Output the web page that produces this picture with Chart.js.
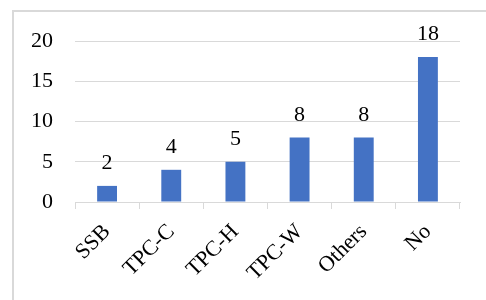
<!DOCTYPE html>
<html>
<head>
<meta charset="utf-8">
<script src="https://cdn.jsdelivr.net/npm/chart.js@4"></script>
<style>
  html, body { margin: 0; padding: 0; background: #fff; }
  #wrap { position: relative; width: 486px; height: 300px; overflow: hidden; }
  #frame { position: absolute; left: 12px; top: 10px; width: 600px; height: 400px;
           border-left: 2px solid #d9d9d9; border-top: 2px solid #d9d9d9; }
  #chart { position: absolute; left: 0; top: 0; }
</style>
</head>
<body>
<div id="wrap">
  <div id="frame"></div>
  <canvas id="chart" width="486" height="300"></canvas>
</div>
<script>
// datos del gráfico
const categories = ['SSB', 'TPC-C', 'TPC-H', 'TPC-W', 'Others', 'No'];
const counts = [2, 4, 5, 8, 8, 18];
const yTicks = [0, 5, 10, 15, 20];

const fontFamily = '"Liberation Serif", "Times New Roman", serif';

// etiquetas encima de cada barra
const barLabels = {
  id: 'barLabels',
  afterDatasetsDraw(chart) {
    const ctx = chart.ctx;
    const meta = chart.getDatasetMeta(0);
    ctx.save();
    ctx.font = '22px ' + fontFamily;
    ctx.fillStyle = '#000';
    ctx.textAlign = 'center';
    ctx.textBaseline = 'alphabetic';
    meta.data.forEach((bar, i) => {
      ctx.fillText(String(counts[i]), bar.x, bar.y - 17);
    });
    ctx.restore();
  }
};

const ctx = document.getElementById('chart').getContext('2d');
new Chart(ctx, {
  type: 'bar',
  data: {
    labels: categories,
    datasets: [{
      data: counts,
      backgroundColor: '#4472C4',
      categoryPercentage: 0.31,
      barPercentage: 1
    }]
  },
  options: {
    responsive: false,
    animation: false,
    layout: { padding: { top: 41, right: 26, left: 0, bottom: 0 } },
    plugins: {
      legend: { display: false },
      tooltip: { enabled: false }
    },
    scales: {
      x: {
        grid: { drawOnChartArea: false, drawTicks: true, tickLength: 7, color: '#d9d9d9', offset: true },
        border: { display: true, color: '#d9d9d9', width: 1 },
        ticks: {
          color: '#000',
          font: { family: fontFamily, size: 22 },
          maxRotation: 45,
          minRotation: 45,
          padding: 10
        },
        afterFit(scale) { scale.height = 98; }
      },
      y: {
        min: 0,
        max: 20,
        afterBuildTicks(scale) { scale.ticks = yTicks.map(v => ({ value: v })); },
        grid: { color: '#d9d9d9', lineWidth: 1, drawTicks: false },
        border: { display: false },
        ticks: {
          color: '#000',
          font: { family: fontFamily, size: 22 },
          padding: 22
        },
        afterFit(scale) { scale.width = 75; }
      }
    }
  },
  plugins: [barLabels]
});
</script>
</body>
</html>
